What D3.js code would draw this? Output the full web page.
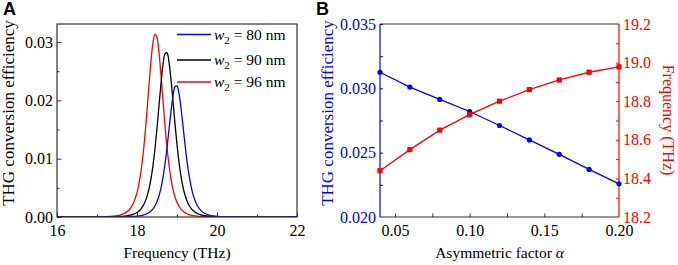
<!DOCTYPE html>
<html>
<head>
<meta charset="utf-8">
<script src="https://cdn.jsdelivr.net/npm/d3@7"></script>
<style>
  html, body { margin: 0; padding: 0; background: #fff; }
  svg { display: block; font-family: "Liberation Serif", "Times New Roman", serif; }
</style>
</head>
<body>
<div id="chart"></div>
<script>
// ---- panel A data: THG conversion efficiency spectra ----
const freq = [16.0, 16.5, 17.0, 17.2, 17.4, 17.5, 17.6, 17.7, 17.8, 17.9, 18.0, 18.05, 18.1, 18.15, 18.2, 18.25,
  18.3, 18.35, 18.4, 18.45, 18.5, 18.55, 18.6, 18.65, 18.7, 18.75, 18.8, 18.85, 18.9, 18.95, 19.0, 19.05,
  19.1, 19.15, 19.2, 19.25, 19.3, 19.4, 19.5, 19.6, 19.7, 19.8, 19.9, 20.0, 20.2, 20.5, 21.0, 22.0];

const eff80 = [0, 0, 0, 0.000006, 0.000012, 0.000017, 0.000025, 0.000038, 0.000058, 0.000091, 0.000148, 0.00019,
  0.000247, 0.000323, 0.000427, 0.000569, 0.000764, 0.00103, 0.00141, 0.00193, 0.00265, 0.00365, 0.0050, 0.00679,
  0.00909, 0.01187, 0.01499, 0.01812, 0.02074, 0.02233, 0.02248, 0.02116, 0.0187, 0.01563, 0.01247, 0.0096,
  0.00721, 0.00388, 0.00205, 0.0011, 0.0006, 0.00034, 0.0002, 0.00012, 0.00005, 0.00002, 0, 0];

const eff90 = [0, 0, 0.00001, 0.00002, 0.000043, 0.000065, 0.000101, 0.000161, 0.000263, 0.000446, 0.000778, 0.00104,
  0.0014, 0.0019, 0.00259, 0.00354, 0.00483, 0.00657, 0.00886, 0.01175, 0.01522, 0.01907, 0.02288, 0.02607,
  0.02797, 0.02815, 0.02657, 0.02359, 0.01985, 0.01597, 0.01241, 0.00939, 0.00698, 0.00514, 0.00377, 0.00276,
  0.00202, 0.00111, 0.00062, 0.00036, 0.000215, 0.000133, 0.000085, 0.000055, 0.000025, 0.00001, 0, 0];

const eff96 = [0, 0.000005, 0.000026, 0.000057, 0.000139, 0.000227, 0.000381, 0.000665, 0.001196, 0.002216, 0.00418, 0.00575,
  0.00785, 0.01063, 0.01409, 0.01819, 0.0226, 0.02676, 0.02991, 0.03136, 0.03073, 0.02818, 0.02433, 0.01994,
  0.01567, 0.01193, 0.00888, 0.00652, 0.00475, 0.00345, 0.00251, 0.00184, 0.00135, 0.001, 0.000746, 0.000561,
  0.000426, 0.000251, 0.000153, 0.000096, 0.000062, 0.000041, 0.000028, 0.00002, 0.00001, 0, 0, 0];

const legendWidths = ["80", "90", "96"];

// ---- panel B data: versus asymmetric factor ----
const alpha = [0.04, 0.06, 0.08, 0.10, 0.12, 0.14, 0.16, 0.18, 0.20];
const effAlpha = [0.03125, 0.0301, 0.02914, 0.0282, 0.02711, 0.02599, 0.02487, 0.0237, 0.02258];
const freqAlpha = [18.44, 18.549, 18.65, 18.73, 18.80, 18.86, 18.91, 18.95, 18.978];

const W = 678, H = 265;
const BLUE = '#0000ff', RED = '#ff0000', FRAME = '#333';

const svg = d3.select('#chart').append('svg')
  .attr('width', W).attr('height', H);

// inward ticks helper
function styleAxis(g, color) {
  g.select('.domain').remove();
  g.selectAll('.tick line').attr('stroke', color);
  g.selectAll('.tick text').attr('fill', color).style('font-size', '16px').style('font-family', '"Liberation Serif", serif');
}

// ================= Panel A =================
const A = { left: 57, right: 297, top: 24, bottom: 217 };
const xA = d3.scaleLinear().domain([16, 22]).range([A.left, A.right]);
const yA = d3.scaleLinear().domain([0, 0.0331]).range([A.bottom, A.top]);

svg.append('text').attr('x', 3).attr('y', 15)
  .style('font-family', '"Liberation Sans", Arial, sans-serif')
  .style('font-weight', 'bold').style('font-size', '18px').text('A');

// minor ticks first
svg.append('g').attr('transform', `translate(0,${A.bottom})`)
  .call(d3.axisTop(xA).tickValues([17, 19, 21]).tickSize(2.5).tickFormat(''))
  .call(g => styleAxis(g, FRAME));
svg.append('g').attr('transform', `translate(0,${A.bottom})`)
  .call(d3.axisBottom(xA).tickValues([16, 18, 20, 22]).tickSize(0).tickPadding(8).tickFormat(d3.format('d')))
  .call(g => styleAxis(g, '#000'));
svg.append('g').attr('transform', `translate(0,${A.bottom})`)
  .call(d3.axisTop(xA).tickValues([16, 18, 20, 22]).tickSize(4.5).tickFormat(''))
  .call(g => styleAxis(g, FRAME));

svg.append('g').attr('transform', `translate(${A.left},0)`)
  .call(d3.axisRight(yA).tickValues([0.005, 0.015, 0.025]).tickSize(2.5).tickFormat(''))
  .call(g => styleAxis(g, FRAME));
svg.append('g').attr('transform', `translate(${A.left},0)`)
  .call(d3.axisLeft(yA).tickValues([0, 0.01, 0.02, 0.03]).tickSize(0).tickPadding(4).tickFormat(d3.format('.2f')))
  .call(g => styleAxis(g, '#000'));
svg.append('g').attr('transform', `translate(${A.left},0)`)
  .call(d3.axisRight(yA).tickValues([0, 0.01, 0.02, 0.03]).tickSize(4.5).tickFormat(''))
  .call(g => styleAxis(g, FRAME));

const lineA = d3.line()
  .x((d, i) => xA(freq[i]))
  .y(d => yA(d))
  .curve(d3.curveCatmullRom.alpha(0.5));

const clipA = svg.append('clipPath').attr('id', 'clipA');
clipA.append('rect').attr('x', A.left).attr('y', A.top).attr('width', A.right - A.left).attr('height', A.bottom - A.top);

const seriesA = [
  { values: eff96, color: RED },
  { values: eff90, color: '#000' },
  { values: eff80, color: BLUE }
];
svg.append('g').attr('clip-path', 'url(#clipA)')
  .selectAll('path')
  .data(seriesA)
  .join('path')
  .attr('d', d => lineA(d.values))
  .attr('fill', 'none')
  .attr('stroke', d => d.color)
  .attr('stroke-width', 1.3);

svg.append('rect')
  .attr('x', A.left).attr('y', A.top)
  .attr('width', A.right - A.left).attr('height', A.bottom - A.top)
  .attr('fill', 'none').attr('stroke', FRAME).attr('stroke-width', 1.2);

// legend
const legendColors = [BLUE, '#000', RED];
const legendY = [34.5, 60, 82];
const leg = svg.append('g').selectAll('g')
  .data(legendWidths)
  .join('g')
  .attr('transform', (d, i) => `translate(177,${legendY[i]})`);
leg.append('line').attr('x1', 0).attr('x2', 34)
  .attr('stroke', (d, i) => legendColors[i]).attr('stroke-width', 1.3);
const legText = leg.append('text').attr('x', 37).attr('y', 5).style('font-size', '15.5px');
legText.append('tspan').style('font-style', 'italic').text('w');
legText.append('tspan').attr('dy', 4).style('font-size', '11px').text('2');
legText.append('tspan').attr('dy', -4).text(d => ` = ${d} nm`);

svg.append('text')
  .attr('text-anchor', 'middle')
  .attr('x', (A.left + A.right) / 2).attr('y', 258)
  .style('font-size', '15.5px')
  .text('Frequency (THz)');

svg.append('text')
  .attr('text-anchor', 'middle')
  .attr('transform', `translate(14,113) rotate(-90)`)
  .style('font-size', '17px')
  .text('THG conversion efficiency');

// ================= Panel B =================
const B = { left: 380, right: 619, top: 24, bottom: 217 };
const xB = d3.scaleLinear().domain([0.04, 0.20]).range([B.left, B.right]);
const yBl = d3.scaleLinear().domain([0.020, 0.035]).range([B.bottom, B.top]);
const yBr = d3.scaleLinear().domain([18.2, 19.2]).range([B.bottom, B.top]);

svg.append('text').attr('x', 316).attr('y', 15)
  .style('font-family', '"Liberation Sans", Arial, sans-serif')
  .style('font-weight', 'bold').style('font-size', '18px').text('B');

svg.append('g').attr('transform', `translate(0,${B.bottom})`)
  .call(d3.axisBottom(xB).tickValues([0.05, 0.10, 0.15, 0.20]).tickSize(0).tickPadding(8).tickFormat(d3.format('.2f')))
  .call(g => styleAxis(g, '#000'));
svg.append('g').attr('transform', `translate(0,${B.bottom})`)
  .call(d3.axisTop(xB).tickValues([0.05, 0.075, 0.10, 0.125, 0.15, 0.175]).tickSize(3.5).tickFormat(''))
  .call(g => styleAxis(g, FRAME));

svg.append('g').attr('transform', `translate(${B.left},0)`)
  .call(d3.axisLeft(yBl).tickValues([0.020, 0.025, 0.030, 0.035]).tickSize(0).tickPadding(4).tickFormat(d3.format('.3f')))
  .call(g => styleAxis(g, BLUE));
svg.append('g').attr('transform', `translate(${B.left},0)`)
  .call(d3.axisRight(yBl).tickValues(d3.range(0.0225, 0.035, 0.0025)).tickSize(3).tickFormat(''))
  .call(g => styleAxis(g, BLUE));

svg.append('g').attr('transform', `translate(${B.right},0)`)
  .call(d3.axisRight(yBr).tickValues([18.2, 18.4, 18.6, 18.8, 19.0, 19.2]).tickSize(0).tickPadding(4).tickFormat(d3.format('.1f')))
  .call(g => styleAxis(g, RED));
svg.append('g').attr('transform', `translate(${B.right},0)`)
  .call(d3.axisLeft(yBr).tickValues([18.3, 18.4, 18.5, 18.6, 18.7, 18.8, 18.9, 19.0, 19.1]).tickSize(3).tickFormat(''))
  .call(g => styleAxis(g, RED));

// frame: top/bottom dark, left blue, right red
svg.append('line').attr('x1', B.left).attr('x2', B.right).attr('y1', B.top).attr('y2', B.top)
  .attr('stroke', FRAME).attr('stroke-width', 1.2);
svg.append('line').attr('x1', B.left).attr('x2', B.right).attr('y1', B.bottom).attr('y2', B.bottom)
  .attr('stroke', FRAME).attr('stroke-width', 1.2);
svg.append('line').attr('x1', B.left).attr('x2', B.left).attr('y1', B.top).attr('y2', B.bottom)
  .attr('stroke', BLUE).attr('stroke-width', 1.2);
svg.append('line').attr('x1', B.right).attr('x2', B.right).attr('y1', B.top).attr('y2', B.bottom)
  .attr('stroke', RED).attr('stroke-width', 1.2);

const lineEff = d3.line().x((d, i) => xB(alpha[i])).y(d => yBl(d));
const lineFreq = d3.line().x((d, i) => xB(alpha[i])).y(d => yBr(d));

svg.append('path').attr('d', lineEff(effAlpha))
  .attr('fill', 'none').attr('stroke', BLUE).attr('stroke-width', 1.3);
svg.append('path').attr('d', lineFreq(freqAlpha))
  .attr('fill', 'none').attr('stroke', RED).attr('stroke-width', 1.3);

svg.append('g').selectAll('circle')
  .data(effAlpha)
  .join('circle')
  .attr('cx', (d, i) => xB(alpha[i]))
  .attr('cy', d => yBl(d))
  .attr('r', 2.6)
  .attr('fill', BLUE);

svg.append('g').selectAll('rect')
  .data(freqAlpha)
  .join('rect')
  .attr('x', (d, i) => xB(alpha[i]) - 2.6)
  .attr('y', d => yBr(d) - 2.6)
  .attr('width', 5.2).attr('height', 5.2)
  .attr('fill', RED);

const xTitle = svg.append('text')
  .attr('text-anchor', 'middle')
  .attr('x', (B.left + B.right) / 2).attr('y', 258)
  .style('font-size', '15.5px');
xTitle.append('tspan').text('Asymmetric factor ');
xTitle.append('tspan').style('font-style', 'italic').text('α');

svg.append('text')
  .attr('text-anchor', 'middle')
  .attr('transform', `translate(333,113) rotate(-90)`)
  .attr('fill', BLUE)
  .style('font-size', '17px')
  .text('THG conversion efficiency');

svg.append('text')
  .attr('text-anchor', 'middle')
  .attr('transform', `translate(663,120) rotate(90)`)
  .attr('fill', RED)
  .style('font-size', '16px')
  .text('Frequency (THz)');
</script>
</body>
</html>
